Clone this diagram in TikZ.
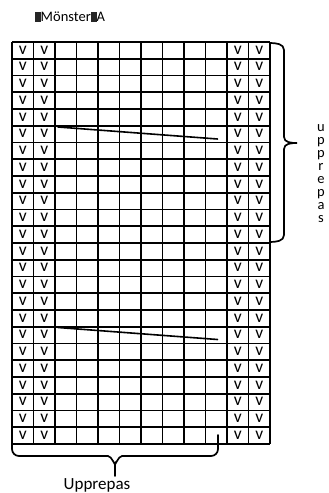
\documentclass[tikz,border=0pt]{standalone}
\usepackage{fontspec}
\setmainfont{Carlito}
\usepackage{xcolor}
\usepackage{tikz}
\usetikzlibrary{calc,positioning}
\definecolor{inkc}{HTML}{000000}
\definecolor{tofuc}{HTML}{262626}
\newcommand{\tofu}{\textcolor{tofuc}{\rule[-0.04em]{0.4em}{0.72em}}}
\tikzset{
  gridln/.style={inkc,line width=1.8pt},
  brc/.style={inkc,line width=1.7pt,line cap=round},
  slant/.style={inkc,line width=1.6pt,line cap=round},
  vmark/.style={inner sep=0pt,font=\fontsize{17.5}{17.5}\selectfont},
  lbl/.style={inner sep=0pt,align=center}
}
\begin{document}
\begin{tikzpicture}[x=1pt,y=-1pt]
\useasboundingbox (0,0) rectangle (329,493);
% title
\node[lbl,font=\fontsize{14.5}{14.5}\selectfont] (title) at (70,17) {\tofu M\"onster\tofu A};
% grid 12 x 24
\foreach \c in {0,...,12}
  \draw[gridln] ({12+21.5*\c},42) -- ({12+21.5*\c},444);
\foreach \r in {0,...,24}
  \draw[gridln] (12,{42+16.75*\r}) -- (270,{42+16.75*\r});
\draw[inkc,line width=2.6pt] (12,42) -- (12,444);
% v marks in the two outer columns on each side
\foreach \r in {0,...,23}
  \foreach \c in {0,1,10,11}
    \node[vmark] (v-\r-\c) at ({12+21.5*(\c+0.5)},{42+16.75*(\r+0.5)-0.5}) {v};
% slanted strokes
\draw[slant] (58,127) -- (217.5,139);
\draw[slant] (58,327.5) -- (217.5,339.5);
% right brace
\draw[brc] (270,43) to[out=0,in=90] (284,50) -- (284,137)
  to[out=-90,in=180] (297,143) to[out=180,in=90] (284,149)
  -- (284,235) to[out=-90,in=0] (270,242);
\node[lbl,anchor=north,font=\fontsize{14.5}{13}\selectfont] (rlbl) at (321,124)
  {u\\p\\p\\r\\e\\p\\a\\s};
% bottom brace
\draw[brc] (12,435) -- (12,449) to[out=-90,in=180] (19,456) -- (108,456)
  to[out=0,in=-90] (115,463) -- (115,476)
  (115,463) to[out=-90,in=180] (122,456) -- (211,456)
  to[out=0,in=-90] (218,449) -- (218,435);
\node[lbl,font=\fontsize{17}{17}\selectfont,anchor=base] (blbl) at (97,489) {Upprepas};
\end{tikzpicture}
\end{document}
